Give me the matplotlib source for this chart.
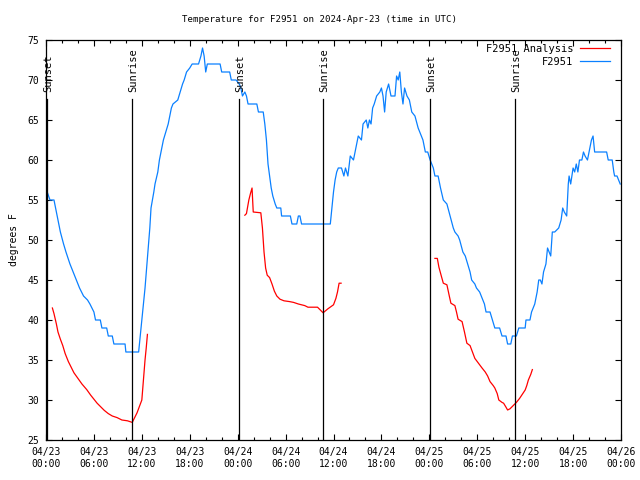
import matplotlib
matplotlib.use('Agg')
import matplotlib.pyplot as plt
from matplotlib.ticker import MultipleLocator

# hours since 04/23 00:00 UTC
obs_h = [0.15, 0.5, 1.0, 1.2, 1.5, 1.8, 2.2, 2.5, 3.0, 3.4, 3.8, 4.2, 4.7, 5.2, 5.5, 6.0, 6.2, 6.8,
         7.0, 7.6, 7.8, 8.3, 8.5, 9.9, 10.0, 11.6, 11.8, 12.0, 12.2, 12.4, 12.6, 12.8, 13.0, 13.15,
         13.5, 13.65, 14.0, 14.2, 14.5, 14.7, 15.0, 15.3, 15.5, 15.7, 15.9, 16.5, 16.8, 17.1, 17.3,
         17.6, 18.0, 18.3, 19.1, 19.4, 19.6, 19.8, 20.0, 20.2, 21.8, 22.0, 23.0, 23.2, 23.8, 24.2,
         24.4, 24.6, 24.9, 25.1, 25.3, 26.4, 26.6, 27.2, 27.4, 27.6, 27.8, 28.0, 28.2, 28.4, 28.7,
         28.9, 29.4, 29.5, 30.6, 30.8, 31.4, 31.6, 31.8, 32.0, 35.6, 35.8, 36.0, 36.2, 36.4, 36.6,
         37.0, 37.3, 37.5, 37.8, 38.1, 38.5, 38.8, 39.1, 39.5, 39.7, 40.1, 40.3, 40.5, 40.7, 40.9,
         41.1, 41.4, 41.8, 42.0, 42.2, 42.4, 42.6, 42.9, 43.2, 43.7, 43.9, 44.1, 44.3, 44.5, 44.7,
         44.9, 45.2, 45.5, 45.8, 46.2, 46.6, 46.8, 47.0, 47.2, 47.5, 47.8, 48.1, 48.5, 48.7, 49.1,
         49.4, 49.75, 50.2, 50.6, 51.0, 51.2, 51.6, 51.8, 52.2, 52.5, 52.8, 53.1, 53.3, 53.7, 53.9,
         54.3, 54.5, 54.9, 55.1, 55.6, 55.9, 56.2, 56.8, 57.1, 57.6, 57.8, 58.2, 58.4, 58.9, 59.2,
         60.0, 60.1, 60.6, 60.8, 61.2, 61.5, 61.7, 61.9, 62.1, 62.3, 62.6, 62.8, 63.0, 63.2, 63.4,
         63.7, 64.2, 64.5, 64.7, 64.9, 65.2, 65.4, 65.5, 65.7, 66.0, 66.2, 66.4, 66.6, 66.8, 67.1,
         67.3, 67.5, 67.8, 68.0, 68.3, 68.5, 68.7, 70.2, 70.4, 70.9, 71.1, 71.2, 71.5, 71.7, 71.9]
obs_t = [56.0, 55.0, 55.0, 54.0, 52.5, 51.0, 49.5, 48.5, 47.0, 46.0, 45.0, 44.0, 43.0, 42.5, 42.0, 41.0, 40.0, 40.0,
         39.0, 39.0, 38.0, 38.0, 37.0, 37.0, 36.0, 36.0, 38.0, 40.0, 42.0, 44.0, 46.5, 49.0, 51.5, 54.0,
         56.0, 57.0, 58.5, 60.0, 61.5, 62.5, 63.5, 64.5, 65.5, 66.5, 67.0, 67.5, 68.5, 69.5, 70.0,
         71.0, 71.5, 72.0, 72.0, 73.0, 74.0, 73.0, 71.0, 72.0, 72.0, 71.0, 71.0, 70.0, 70.0, 69.5,
         69.0, 68.0, 68.5, 68.0, 67.0, 67.0, 66.0, 66.0, 64.5, 62.5, 59.5, 58.0, 56.5, 55.5, 54.5,
         54.0, 54.0, 53.0, 53.0, 52.0, 52.0, 53.0, 53.0, 52.0, 52.0, 54.0, 56.0, 57.5, 58.5, 59.0,
         59.0, 58.0, 59.0, 58.0, 60.5, 60.0, 61.5, 63.0, 62.5, 64.5, 65.0, 64.0, 65.0, 64.5, 66.5,
         67.0, 68.0, 68.5, 69.0, 68.0, 66.0, 68.5, 69.5, 68.0, 68.0, 70.5, 70.0, 71.0, 68.5, 67.0,
         69.0, 68.0, 67.5, 66.0, 65.5, 64.0, 63.5, 63.0, 62.5, 61.0, 61.0, 60.0, 59.0, 58.0, 58.0,
         56.5, 55.0, 54.5, 53.0, 51.5, 51.0, 50.5, 50.0, 48.5, 48.0, 47.0, 46.0, 45.0, 44.5, 44.0,
         43.5, 43.0, 42.0, 41.0, 41.0, 40.0, 39.0, 39.0, 38.0, 38.0, 37.0, 37.0, 38.0, 38.0, 39.0,
         39.0, 40.0, 40.0, 41.0, 42.0, 43.5, 45.0, 45.0, 44.5, 46.0, 47.0, 49.0, 48.5, 48.0, 51.0,
         51.0, 51.5, 52.5, 54.0, 53.5, 53.0, 57.0, 58.0, 57.0, 59.0, 58.5, 59.5, 58.5, 60.0, 60.0,
         61.0, 60.5, 60.0, 61.0, 62.5, 63.0, 61.0, 61.0, 60.0, 60.0, 58.5, 58.0, 58.0, 57.5, 57.0]

# analysis runs (three overnight segments)
an1_h = [0.8, 1.0, 1.3, 1.5, 1.8, 2.1, 2.4, 2.8, 3.1, 3.5, 4.0, 4.5, 5.1, 5.6, 6.0, 6.4, 6.8, 7.3,
         7.8, 8.3, 8.9, 9.5, 10.2, 10.8, 11.1, 11.4, 11.7, 12.0, 12.2, 12.4, 12.55, 12.7]
an1_t = [41.5, 40.8, 39.5, 38.5, 37.6, 36.8, 35.8, 34.8, 34.2, 33.4, 32.7, 32.0, 31.3, 30.6, 30.1, 29.6, 29.2, 28.7,
         28.3, 28.0, 27.8, 27.5, 27.4, 27.2, 27.8, 28.4, 29.2, 30.0, 32.5, 35.0, 36.5, 38.2]
an2_h = [24.9, 25.1, 25.4, 25.6, 25.8, 25.95, 26.9, 27.1, 27.3, 27.5, 27.7, 28.0, 28.3, 28.6, 28.9, 29.3,
         29.8, 30.5, 31.0, 31.6, 32.0, 32.4, 32.8, 34.0, 34.4, 34.7, 35.3, 36.0, 36.3, 36.5, 36.7, 36.95]
an2_t = [53.1, 53.3, 55.0, 55.8, 56.5, 53.5, 53.4, 51.5, 48.5, 46.5, 45.6, 45.3, 44.5, 43.6, 43.0, 42.6,
         42.4, 42.3, 42.2, 42.0, 41.9, 41.8, 41.6, 41.6, 41.2, 40.9, 41.4, 41.9, 42.7, 43.5, 44.6, 44.6]
an3_h = [48.7, 49.0, 49.2, 49.5, 49.75, 50.2, 50.5, 50.7, 51.2, 51.4, 51.6, 52.1, 52.4, 52.7, 53.1, 53.4,
         53.7, 54.0, 54.3, 54.6, 55.0, 55.3, 55.6, 56.0, 56.2, 56.5, 56.7, 57.1, 57.3, 57.6, 57.8, 58.1,
         58.4, 58.9, 59.3, 59.7, 60.0, 60.2, 60.4, 60.7, 60.9]
an3_t = [47.7, 47.7, 46.6, 45.5, 44.6, 44.4, 43.0, 42.1, 41.8, 41.0, 40.1, 39.8, 38.5, 37.1, 36.8, 36.0,
         35.2, 34.8, 34.4, 34.0, 33.5, 33.0, 32.3, 31.8, 31.5, 30.8, 30.0, 29.7, 29.6, 29.1, 28.75, 28.9,
         29.2, 29.7, 30.2, 30.8, 31.25, 31.8, 32.5, 33.2, 33.8]

sun_events = [(0.12, 'Sunset'), (10.77, 'Sunrise'), (24.15, 'Sunset'),
              (34.7, 'Sunrise'), (48.08, 'Sunset'), (58.73, 'Sunrise')]

tick_hours = list(range(0, 73, 6))
tick_labels = ['04/23\n00:00', '04/23\n06:00', '04/23\n12:00', '04/23\n18:00',
               '04/24\n00:00', '04/24\n06:00', '04/24\n12:00', '04/24\n18:00',
               '04/25\n00:00', '04/25\n06:00', '04/25\n12:00', '04/25\n18:00', '04/26\n00:00']

plt.rcParams['font.family'] = ['DejaVu Sans Mono']
plt.rcParams['font.size'] = 7

fig = plt.figure(figsize=(6.4, 4.8), dpi=100)
ax = fig.add_axes([46/640, 40/480, 575/640, 400/480])

red = '#ff0000'
blue = '#0a80ff'
ax.plot(an1_h, an1_t, color=red, lw=0.9, label='F2951 Analysis')
ax.plot(an2_h, an2_t, color=red, lw=0.9)
ax.plot(an3_h, an3_t, color=red, lw=0.9)
ax.plot(obs_h, obs_t, color=blue, lw=0.9, label='F2951')

for h, name in sun_events:
    ax.axvline(h, ymin=0, ymax=0.8525, color='black', lw=0.9)
    ax.text(h + 0.2, 0.87, name, transform=ax.get_xaxis_transform(), rotation=90,
            ha='center', va='bottom', fontsize=7.5)

ax.set_xlim(0, 72)
ax.set_ylim(25, 75)
ax.set_xticks(tick_hours)
ax.set_xticklabels(tick_labels)
ax.xaxis.set_minor_locator(MultipleLocator(2))
ax.yaxis.set_major_locator(MultipleLocator(5))
ax.tick_params(which='both', direction='in', top=True, right=True, width=0.8)
ax.tick_params(which='major', length=4.5, pad=5)
ax.tick_params(which='minor', length=2.5)
for s in ax.spines.values():
    s.set_linewidth(0.9)

ax.set_ylabel('degrees F', labelpad=6)
fig.text(0.5, 1 - 20/480, 'Temperature for F2951 on 2024-Apr-23 (time in UTC)',
         ha='center', va='center', fontsize=6.6)

ax.legend(loc='upper right', bbox_to_anchor=(1 - 8/575, 1 - 1/400), markerfirst=False,
          frameon=False, handlelength=2.9, handletextpad=0.6, borderaxespad=0,
          borderpad=0.3, labelspacing=0.25, fontsize=7.5)

fig.savefig('out.png', dpi=100)
